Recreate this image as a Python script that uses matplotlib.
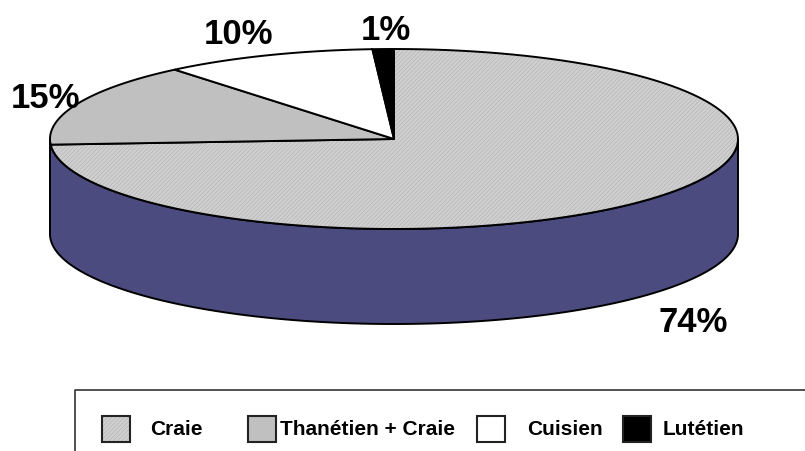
import numpy as np
import matplotlib.pyplot as plt
from matplotlib.patches import Polygon, Rectangle

# data
categories = ["Craie", "Thanétien + Craie", "Cuisien", "Lutétien"]
values = [74, 15, 10, 1]
labels = ["74%", "15%", "10%", "1%"]
colors = ["#d0d0d0", "#c0c0c0", "#ffffff", "#000000"]
hatches = ["////////", None, None, None]

# layout (pixels)
cx, cy, rx, ry, depth = 394, 140, 344, 90, 95
side_color = "#4c4b7f"
label_pos = [(693, 323), (45, 98), (238, 35), (386, 30)]

plt.rcParams['font.family'] = ['Liberation Sans', 'DejaVu Sans']
plt.rcParams['hatch.linewidth'] = 0.5

fig = plt.figure(figsize=(8.05, 4.52), dpi=100)
ax = fig.add_axes([0, 0, 1, 1])
ax.set_xlim(0, 805)
ax.set_ylim(452, 0)
ax.axis('off')


def ell(t, dy=0):
    t = np.radians(t)
    return np.column_stack([cx + rx * np.cos(t), cy - ry * np.sin(t) + dy])


# side (front half)
t = np.linspace(180, 360, 200)
side = np.vstack([ell(t), ell(t[::-1], depth)])
ax.add_patch(Polygon(side, closed=True, facecolor=side_color, edgecolor='black', lw=1.4))

# top slices, clockwise from 12 o'clock
start = 90.0
for val, col, h in zip(values, colors, hatches):
    end = start - val / sum(values) * 360
    t = np.linspace(start, end, 120)
    pts = np.vstack([[cx, cy], ell(t)])
    if h:
        ax.add_patch(Polygon(pts, closed=True, facecolor=col, edgecolor='#b4b4b4',
                             hatch=h, lw=0))
        ax.add_patch(Polygon(pts, closed=True, facecolor='none', edgecolor='black', lw=1.4))
    else:
        ax.add_patch(Polygon(pts, closed=True, facecolor=col, edgecolor='black', lw=1.4))
    start = end

for lab, (x, y) in zip(labels, label_pos):
    ax.text(x, y, lab, fontsize=25, fontweight='bold', ha='center', va='center')

# legend
ax.plot([75, 75, 805], [452, 391, 391], color='#333333', lw=1.2)
sw_x = [102, 248, 477, 623]
txt_x = [150, 280, 527, 663]
for name, col, h, sx, tx in zip(categories, colors, hatches, sw_x, txt_x):
    if h:
        ax.add_patch(Rectangle((sx, 417), 28, 26, facecolor=col, edgecolor='#b4b4b4',
                               hatch=h, lw=0))
        ax.add_patch(Rectangle((sx, 417), 28, 26, facecolor='none', edgecolor='#222222', lw=1.5))
    else:
        ax.add_patch(Rectangle((sx, 417), 28, 26, facecolor=col, edgecolor='#222222', lw=1.5))
    ax.text(tx, 430, name, fontsize=15, fontweight='bold', ha='left', va='center')

fig.savefig("out.png", dpi=100)
